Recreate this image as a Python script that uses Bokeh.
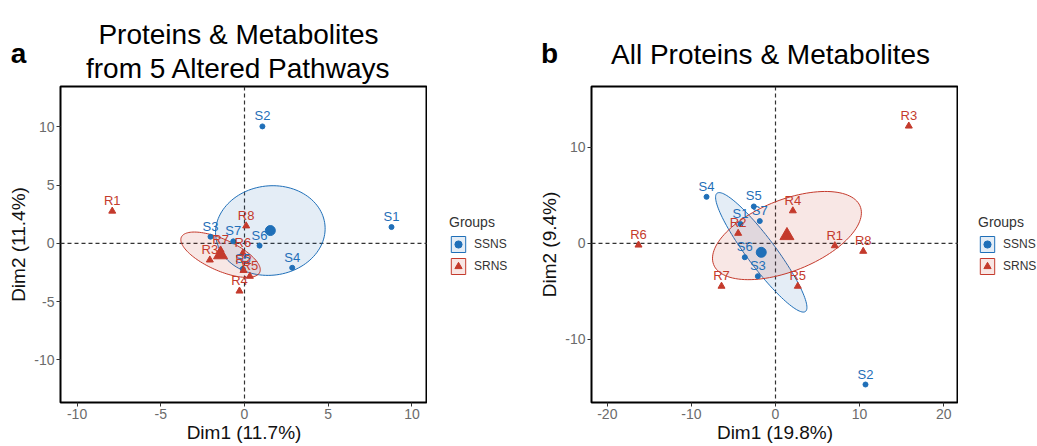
import numpy as np
from bokeh.plotting import figure
from bokeh.models import Span, Legend, LegendItem, Range1d, FixedTicker
from bokeh.layouts import row, column
from bokeh.embed import file_html
from bokeh.resources import INLINE
from bokeh.core.properties import value

FONT = "Liberation Sans"
BLUE = "#1F6FB8"
RED = "#C43A2C"

groups = ["SSNS", "SRNS"]
legend_title = "Groups"
s_labels = ["S1", "S2", "S3", "S4", "S5", "S6", "S7"]
r_labels = ["R1", "R2", "R3", "R4", "R5", "R6", "R7", "R8"]

# Panel a: Proteins & Metabolites from 5 Altered Pathways
a_letter = "a"
a_title = ["Proteins & Metabolites", "from 5 Altered Pathways"]
a_xlabel = "Dim1 (11.7%)"
a_ylabel = "Dim2 (11.4%)"
a_s_x = [8.78, 1.07, -2.03, 2.85, -0.10, 0.90, -0.67]
a_s_y = [1.40, 10.05, 0.57, -2.10, -2.20, -0.20, 0.17]
a_r_x = [-7.90, -0.06, -2.07, -0.30, 0.32, -0.10, -1.43, 0.10]
a_r_y = [2.77, -2.33, -1.43, -4.10, -2.83, -0.85, -0.57, 1.50]
a_xticks = [-10, -5, 0, 5, 10]
a_yticks = [-10, -5, 0, 5, 10]

# Panel b: All Proteins & Metabolites
b_letter = "b"
b_title = ["All Proteins & Metabolites"]
b_xlabel = "Dim1 (19.8%)"
b_ylabel = "Dim2 (9.4%)"
b_s_x = [-4.16, 10.70, -2.10, -8.20, -2.58, -3.65, -1.87]
b_s_y = [2.00, -14.68, -3.42, 4.83, 3.83, -1.45, 2.31]
b_r_x = [7.05, -4.44, 15.85, 2.06, 2.65, -16.29, -6.42, 10.43]
b_r_y = [-0.25, 1.04, 12.19, 3.38, -4.46, -0.18, -4.46, -0.83]
b_xticks = [-20, -10, 0, 10, 20]
b_yticks = [-10, 0, 10]

HEADER_H = 84
PANEL_H = 362


def conf_ellipse(x, y, level=0.95, n=120):
    x = np.asarray(x, float)
    y = np.asarray(y, float)
    cov = np.cov(x, y) / len(x)
    t = np.sqrt(-2 * np.log(1 - level))
    vals, vecs = np.linalg.eigh(cov)
    th = np.linspace(0, 2 * np.pi, n)
    circ = np.vstack([np.cos(th), np.sin(th)])
    pts = vecs @ (np.sqrt(vals)[:, None] * circ) * t
    return x.mean() + pts[0], y.mean() + pts[1]


def blank(p):
    p.axis.visible = False
    p.grid.visible = False
    p.outline_line_color = None
    p.background_fill_color = "white"
    p.border_fill_color = "white"


# header with panel letters and titles (pixel layout space)
header = figure(width=1037, height=HEADER_H, x_range=Range1d(0, 1037),
                y_range=Range1d(HEADER_H, 0), output_backend="svg",
                toolbar_location=None, min_border=0)
blank(header)
header.text([18, 549], [53, 53], text=[a_letter, b_letter], text_font=value(FONT),
            text_font_size="28px", text_font_style="bold", text_color="black",
            text_align="center", text_baseline="alphabetic")
header.text([238, 238, 770], [34, 68, 54], text=a_title + b_title, text_font=value(FONT),
            text_font_size="28px", text_color="black",
            text_align="center", text_baseline="alphabetic")


def make_panel(ml, xr, yr, xticks, yticks, sx, sy, rx, ry, xlabel, ylabel):
    p = figure(frame_width=367, frame_height=316, x_range=Range1d(*xr), y_range=Range1d(*yr),
               output_backend="svg", toolbar_location=None,
               min_border_left=ml, min_border_right=0,
               min_border_top=2, min_border_bottom=44)
    p.background_fill_color = "white"
    p.border_fill_color = "white"
    p.grid.visible = False
    p.outline_line_color = "black"
    p.outline_line_width = 2
    p.xaxis.ticker = FixedTicker(ticks=xticks)
    p.yaxis.ticker = FixedTicker(ticks=yticks)
    p.xaxis.major_label_overrides = {t: str(t) for t in xticks}
    p.yaxis.major_label_overrides = {t: str(t) for t in yticks}
    p.axis.axis_line_color = None
    p.axis.major_tick_line_color = "#333333"
    p.axis.major_tick_out = 4
    p.axis.major_tick_in = 0
    p.axis.minor_tick_line_color = None
    p.axis.major_label_text_font = FONT
    p.axis.major_label_text_font_size = "14px"
    p.axis.major_label_text_color = "#6b6b6b"
    p.axis.major_label_standoff = 2
    p.axis.axis_label_text_font = FONT
    p.axis.axis_label_text_font_size = "19px"
    p.axis.axis_label_text_font_style = "normal"
    p.axis.axis_label_text_color = "#111111"
    p.axis.axis_label_standoff = 0
    p.yaxis.axis_label_standoff = 2
    p.xaxis.axis_label = xlabel
    p.yaxis.axis_label = ylabel

    p.add_layout(Span(location=0, dimension="height", line_dash="4 3",
                      line_color="#333333", line_width=1.2, level="underlay"))
    p.add_layout(Span(location=0, dimension="width", line_dash="4 3",
                      line_color="#333333", line_width=1.2, level="underlay"))

    ex, ey = conf_ellipse(sx, sy)
    p.patch(ex, ey, fill_color=BLUE, fill_alpha=0.12, line_color=BLUE, line_width=1)
    ex, ey = conf_ellipse(rx, ry)
    p.patch(ex, ey, fill_color=RED, fill_alpha=0.12, line_color=RED, line_width=1)

    p.scatter(sx, sy, marker="circle", size=5, color=BLUE)
    p.scatter(rx, ry, marker="triangle", size=7, color=RED)
    p.scatter([np.mean(sx)], [np.mean(sy)], marker="circle", size=10, color=BLUE)
    p.scatter([np.mean(rx)], [np.mean(ry)], marker="triangle", size=14, color=RED)

    p.text(sx, sy, text=s_labels, text_font=value(FONT), text_font_size="13px",
           text_color=BLUE, text_align="center", text_baseline="bottom", y_offset=-3)
    p.text(rx, ry, text=r_labels, text_font=value(FONT), text_font_size="13px",
           text_color=RED, text_align="center", text_baseline="bottom", y_offset=-3)
    return p


def make_legend(width, leg_x):
    f = figure(width=width, height=PANEL_H, x_range=Range1d(0, 1), y_range=Range1d(0, 1),
               output_backend="svg", toolbar_location=None, min_border=0)
    blank(f)
    # key renderers placed outside the visible range: only their legend swatches show
    e_s = f.patch([-5, -4, -4], [-5, -5, -4], fill_color=BLUE, fill_alpha=0.12,
                  line_color=BLUE, line_width=1)
    m_s = f.scatter([-5], [-5], marker="circle", size=9, color=BLUE)
    e_r = f.patch([-5, -4, -4], [-5, -5, -4], fill_color=RED, fill_alpha=0.12,
                  line_color=RED, line_width=1)
    m_r = f.scatter([-5], [-5], marker="triangle", size=12, color=RED)
    legend = Legend(items=[LegendItem(label=groups[0], renderers=[e_s, m_s]),
                           LegendItem(label=groups[1], renderers=[e_r, m_r])],
                    title=legend_title, location=(leg_x, 126), orientation="vertical")
    legend.title_text_font = FONT
    legend.title_text_font_size = "14px"
    legend.title_text_font_style = "normal"
    legend.title_text_color = "#333333"
    legend.title_standoff = 4
    legend.label_text_font = FONT
    legend.label_text_font_size = "12px"
    legend.label_text_color = "#333333"
    legend.glyph_width = 18
    legend.glyph_height = 20
    legend.spacing = 2
    legend.label_standoff = 7
    legend.padding = 0
    legend.margin = 0
    legend.border_line_color = None
    legend.background_fill_alpha = 0
    f.add_layout(legend)
    return f


pa = make_panel(60, (-10.99, 10.93), (-13.68, 13.48), a_xticks, a_yticks,
                a_s_x, a_s_y, a_r_x, a_r_y, a_xlabel, a_ylabel)
la = make_legend(93, 22)
pb = make_panel(71, (-21.88, 21.76), (-16.55, 16.30), b_xticks, b_yticks,
                b_s_x, b_s_y, b_r_x, b_r_y, b_xlabel, b_ylabel)
lb = make_legend(79, 20)

layout = column(header, row(pa, la, pb, lb))
open("out.html", "w").write(file_html(layout, INLINE))
